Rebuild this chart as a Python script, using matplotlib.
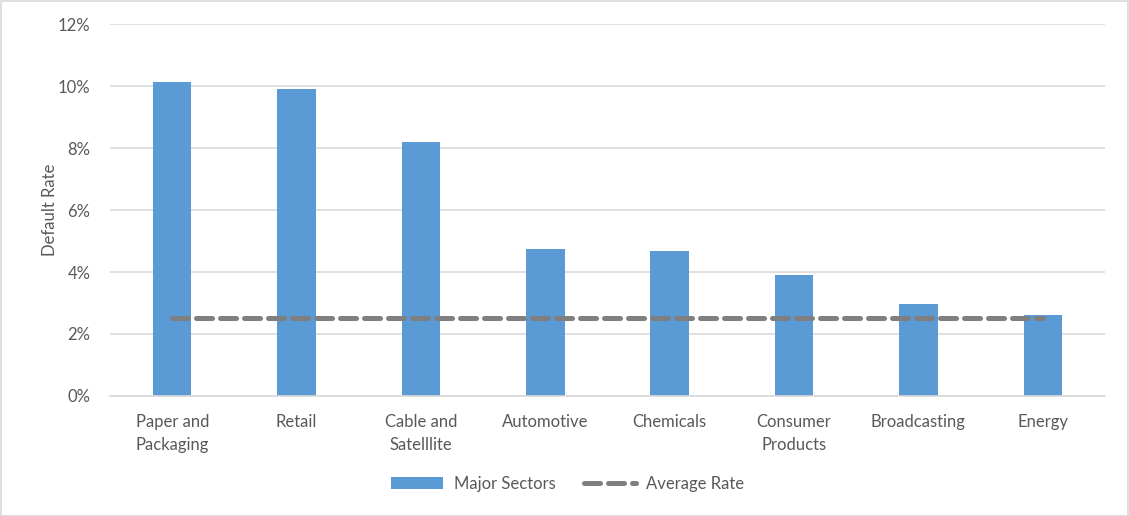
import matplotlib
matplotlib.use("Agg")
import matplotlib.pyplot as plt
from matplotlib.ticker import FuncFormatter
from matplotlib.patches import Rectangle

categories = ["Paper and\nPackaging", "Retail", "Cable and\nSatelllite", "Automotive",
              "Chemicals", "Consumer\nProducts", "Broadcasting", "Energy"]
major_sectors = [10.12, 9.89, 8.19, 4.74, 4.68, 3.89, 2.96, 2.60]
average_rate = [2.53] * 8
yticks = [0, 2, 4, 6, 8, 10, 12]

plt.rcParams['font.family'] = ['Lato', 'DejaVu Sans']
text_color = '#595959'

fig = plt.figure(figsize=(11.29, 5.16), dpi=100)
ax = fig.add_axes([110/1129, 1-396/516, (1105-110)/1129, (396-24)/516])

x = list(range(len(categories)))
bars = ax.bar(x, major_sectors, width=0.31, color='#5b9bd5', label='Major Sectors', zorder=2)
line, = ax.plot(x, average_rate, color='#7f7f7f', lw=3.6, linestyle=(0, (3.2, 1.6)),
                dash_capstyle='round', label='Average Rate', zorder=3)

ax.set_xlim(-0.5, len(categories) - 0.5)
ax.set_ylim(0, 12)
ax.set_yticks(yticks)
ax.yaxis.set_major_formatter(FuncFormatter(lambda v, p: f"{int(v)}%"))
ax.set_xticks(x)
ax.set_xticklabels(categories, fontsize=12, color=text_color, linespacing=1.55, va='top')
ax.tick_params(axis='y', labelsize=12, labelcolor=text_color, length=0, pad=14)
ax.tick_params(axis='x', length=0, pad=13)
ax.grid(axis='y', color='#d9d9d9', lw=1.2, zorder=0)
ax.set_axisbelow(True)
for s in ['top', 'right', 'left']:
    ax.spines[s].set_visible(False)
ax.spines['bottom'].set_color('#d9d9d9')
ax.spines['bottom'].set_linewidth(1.2)
ax.set_ylabel('Default Rate', fontsize=12, color=text_color, labelpad=0)

leg = fig.legend([bars, line], ['Major Sectors', 'Average Rate'], loc='center',
                 bbox_to_anchor=(568/1129, 1-484/516), ncol=2, frameon=False,
                 fontsize=12, handlelength=3.1, handletextpad=0.65, columnspacing=1.7)
for t in leg.get_texts():
    t.set_color(text_color)

fig.patches.append(Rectangle((0.5/1129, 0.5/516), 1-1.5/1129, 1-1.5/516, transform=fig.transFigure,
                             fill=False, edgecolor='#d9d9d9', lw=1.2))

fig.savefig('out.png', dpi=100, facecolor='white')
